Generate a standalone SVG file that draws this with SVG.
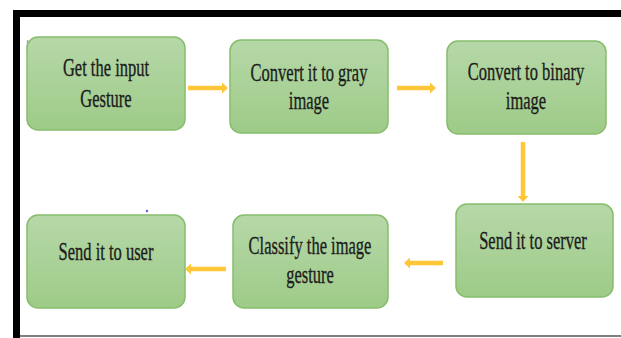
<svg xmlns="http://www.w3.org/2000/svg" width="621" height="338" viewBox="0 0 621 338">
  <defs>
    <linearGradient id="boxFill" x1="0" y1="0" x2="0" y2="1">
      <stop offset="0" stop-color="#b6d8a8"/>
      <stop offset="1" stop-color="#9ecb88"/>
    </linearGradient>
    <marker id="head" markerUnits="userSpaceOnUse" markerWidth="6" markerHeight="11" refX="2" refY="5.5" orient="auto">
      <path d="M0,0 L6,5.5 L0,11 Z" fill="#ffc637"/>
    </marker>
    <style>
      .box { fill: url(#boxFill); stroke: #86bd6c; stroke-width: 1.5; }
      .lbl { font-family: "Liberation Serif", "Times New Roman", serif; font-size: 26px; fill: #1c1c1c; stroke: #1c1c1c; stroke-width: 0.35; text-anchor: middle; }
      .arrow { stroke: #ffc637; stroke-width: 4.5; fill: none; marker-end: url(#head); }
    </style>
  </defs>

  <rect width="621" height="338" fill="#ffffff"/>

  <!-- outer frame -->
  <g id="frame">
    <rect x="13" y="10" width="608" height="7" fill="#000000"/>
    <rect x="13" y="10" width="7" height="328" fill="#000000"/>
    <line x1="20" y1="336" x2="621" y2="336" stroke="#555555" stroke-width="1.5"/>
    <line x1="27.5" y1="40" x2="27.5" y2="53" stroke="#b49fcf" stroke-width="1.5"/>
    <circle cx="147" cy="211" r="1.2" fill="#5a5af0"/>
  </g>

  <g id="connectors">
    <line class="arrow" x1="188" y1="88" x2="224" y2="88"/>
    <line class="arrow" x1="397" y1="88" x2="432" y2="88"/>
    <line class="arrow" x1="523" y1="142" x2="523" y2="198"/>
    <line class="arrow" x1="443" y1="263" x2="408" y2="263"/>
    <line class="arrow" x1="226" y1="269" x2="189" y2="269"/>
  </g>

  <!-- labels are set in a horizontally condensed serif: scale(0.635, 1) about each box centre -->
  <g id="get-input">
    <rect class="box" x="27" y="37" width="158" height="93" rx="11"/>
    <g transform="translate(106 0) scale(0.635 1)">
      <text class="lbl" x="0" y="76">Get the input</text>
      <text class="lbl" x="0" y="107">Gesture</text>
    </g>
  </g>

  <g id="to-gray">
    <rect class="box" x="230" y="40" width="158" height="93" rx="11"/>
    <g transform="translate(309 0) scale(0.635 1)">
      <text class="lbl" x="0" y="81">Convert it to gray</text>
      <text class="lbl" x="0" y="109">image</text>
    </g>
  </g>

  <g id="to-binary">
    <rect class="box" x="447" y="41" width="159" height="93" rx="11"/>
    <g transform="translate(526 0) scale(0.635 1)">
      <text class="lbl" x="0" y="80">Convert to binary</text>
      <text class="lbl" x="0" y="109">image</text>
    </g>
  </g>

  <g id="to-server">
    <rect class="box" x="456" y="204" width="157" height="93" rx="11"/>
    <g transform="translate(533 0) scale(0.635 1)">
      <text class="lbl" x="0" y="249">Send it to server</text>
    </g>
  </g>

  <g id="classify">
    <rect class="box" x="233" y="215" width="155" height="93" rx="11"/>
    <g transform="translate(310 0) scale(0.635 1)">
      <text class="lbl" x="0" y="254">Classify the image</text>
      <text class="lbl" x="0" y="283">gesture</text>
    </g>
  </g>

  <g id="to-user">
    <rect class="box" x="27" y="215" width="158" height="93" rx="11"/>
    <g transform="translate(106 0) scale(0.635 1)">
      <text class="lbl" x="0" y="260">Send it to user</text>
    </g>
  </g>
</svg>
